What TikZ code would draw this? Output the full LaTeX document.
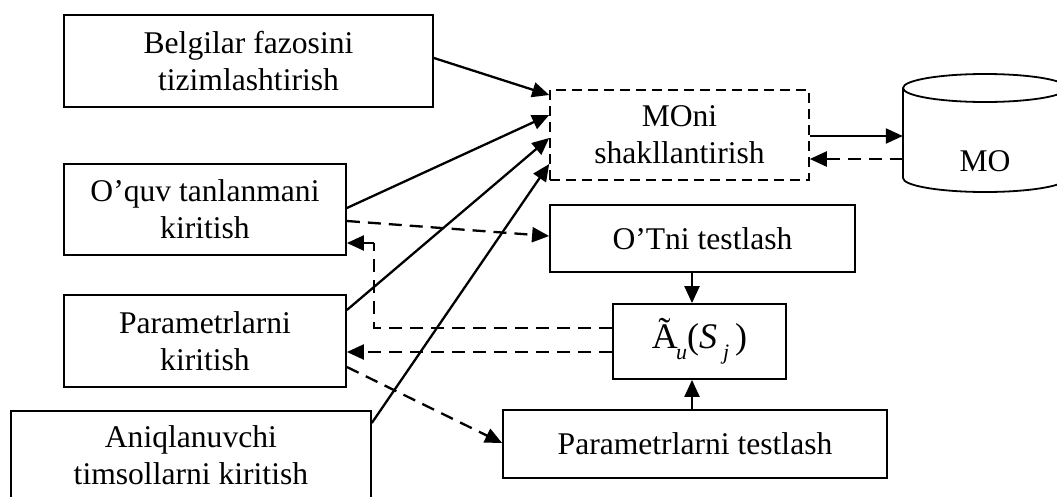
\documentclass[tikz,border=0pt]{standalone}
\usepackage{fontspec}
\setmainfont{Liberation Serif}
\usetikzlibrary{arrows.meta}
\begin{document}
\begin{tikzpicture}[x=1pt,y=-1pt,
  box/.style={draw,line width=1.8pt,rectangle,inner sep=0pt,align=center,
    font=\fontsize{31.6}{37}\selectfont},
  dbox/.style={box,dash pattern=on 10pt off 6pt,line width=1.6pt},
  conn/.style={line width=2.3pt,-{Triangle[length=17pt,width=15pt]}},
  dconn/.style={conn,dash pattern=on 13pt off 8pt},
  dline/.style={line width=2.3pt,dash pattern=on 13pt off 8pt}]
\useasboundingbox (0,0) rectangle (1057,496);
% boxes
\node[box,minimum width=369pt,minimum height=92pt] (b1) at (248.5,61) {Belgilar fazosini\\tizimlashtirish};
\node[box,minimum width=282pt,minimum height=91pt] (b2) at (205,209.5) {O’quv tanlanmani\\kiritish};
\node[box,minimum width=282pt,minimum height=92pt] (b3) at (205,341) {Parametrlarni\\kiritish};
\node[box,minimum width=360pt,minimum height=89pt,anchor=north west] (b4) at (10,410) {Aniqlanuvchi\\timsollarni kiritish};
\node[dbox,minimum width=259pt,minimum height=90pt] (moni) at (679.5,135) {MOni\\shakllantirish};
\node[box,minimum width=305pt,minimum height=67pt] (ot) at (702.5,238.5) {O’Tni testlash};
\node[box,minimum width=173pt,minimum height=75pt] (au) at (699.5,341.5)
  {\fontsize{36}{40}\selectfont Ã\kern-0.05em\raisebox{-0.3em}{\fontsize{22}{22}\selectfont\itshape u}(\textit{S}\,\raisebox{-0.3em}{\fontsize{22}{22}\selectfont\itshape j}\,)};
\node[box,minimum width=384pt,minimum height=68pt] (pt) at (695,444) {Parametrlarni testlash};
% cylinder
\node[inner sep=0pt,minimum width=164pt,minimum height=104pt] (mo) at (985,140) {};
\node[inner sep=0pt,font=\fontsize{31.6}{37}\selectfont] (molabel) at (985,161) {MO};
\draw[line width=1.8pt] (903,88) -- (903,178) arc[start angle=180,end angle=360,x radius=82pt,y radius=14pt] -- (1067,88);
\draw[line width=1.8pt] (985,88) ellipse[x radius=82pt,y radius=14pt];
% solid connectors into MOni
\draw[conn] (b1.east |- 0,58) -- (moni.west |- 0,95);
\draw[conn] (b2.east |- 0,208) -- (moni.west |- 0,115);
\draw[conn] (b3.east |- 0,310) -- (moni.west |- 0,138);
\draw[conn] (b4.north east |- 0,423) -- (moni.west |- 0,164);
% MOni <-> MO
\draw[conn] (moni.east |- 0,136) -- (mo.west |- 0,136);
\draw[dconn] (mo.west |- 0,159) -- (moni.east |- 0,159);
% testing
\draw[dconn] (b2.east |- 0,221) -- (ot.west |- 0,236);
\draw[conn] (ot.south -| 692,0) -- (au.north -| 692,0);
\draw[conn] (pt.north -| 692,0) -- (au.south -| 692,0);
\draw[dconn] (b3.east |- 0,367) -- (pt.west |- 0,443);
% feedback
\coordinate (c1) at (374,328);
\coordinate (c2) at (374,243);
\draw[dline] (au.west |- 0,328) -- (c1) -- (c2);
\draw[dconn] (c2) -- (b2.east |- 0,243);
\draw[dconn] (au.west |- 0,352) -- (b3.east |- 0,352);
\end{tikzpicture}
\end{document}
